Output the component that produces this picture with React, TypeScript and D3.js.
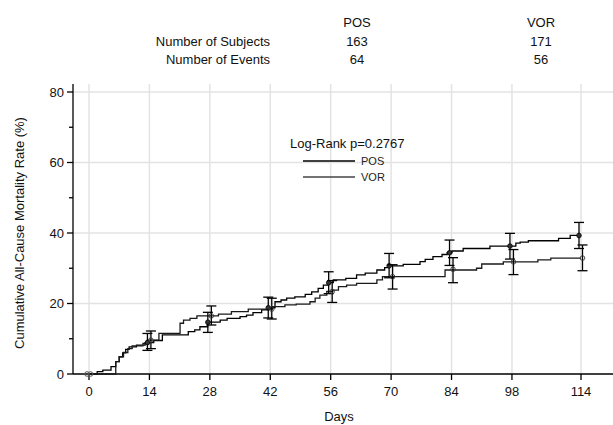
import React from "react";
import * as d3 from "d3";

const W = 613;
const H = 425;

const groups = ["POS", "VOR"];
const subjects = ["163", "171"];
const events = ["64", "56"];
const xTicks = [0, 14, 28, 42, 56, 70, 84, 98, 114];
const yTicks = [0, 20, 40, 60, 80];
const yMinor = [10, 30, 50, 70];
const pValue = "Log-Rank p=0.2767";

// step change points [day, cumulative %]
const posSteps: [number, number][] = [
  [0, 0], [1.9, 0.7], [3.2, 1.1], [5.1, 2.1], [6.2, 3.5], [7.0, 4.9], [7.8, 6.0], [8.5, 7.0],
  [9.3, 7.7], [11.0, 8.2], [13.0, 8.9], [15.0, 9.5], [17.0, 11.1], [23.0, 12.0], [24.5, 12.5],
  [25.7, 13.4], [27.5, 14.7], [30.4, 15.3], [32, 15.8], [35, 16.3], [36.5, 16.7], [38, 17.4],
  [40, 18.2], [41.5, 18.8], [43.1, 20.5], [44.5, 21.0], [45.8, 21.5], [47.7, 21.9], [50.1, 22.6],
  [51.6, 23.3], [53.1, 24.3], [54.3, 25.2], [55.5, 25.9], [56.6, 26.7], [59.5, 27.1], [62.0, 28.1],
  [64, 28.6], [66.7, 29.5], [68.5, 30.2], [69.5, 30.7], [72.8, 31.1], [76.7, 31.9], [77.9, 32.5],
  [79.7, 33.3], [81.8, 33.9], [83.0, 34.4], [84.1, 34.9], [86.7, 35.6], [92.9, 36.3], [98.9, 37.1],
  [99.9, 37.4], [101.8, 37.8], [108.8, 38.5], [111.5, 39.3], [114, 39.3],
];
const vorSteps: [number, number][] = [
  [0, 0], [6.2, 3.5], [7.0, 4.9], [8.0, 6.1], [9.0, 7.2], [10.0, 8.0], [12.5, 8.7], [13.5, 9.6],
  [16.2, 11.5], [21.1, 14.4], [21.9, 15.3], [23.4, 15.8], [25.0, 16.5], [30.0, 17.0], [33.0, 17.7],
  [36.9, 18.4], [42.5, 19.1], [45.4, 19.6], [48, 19.8], [51.2, 20.5], [52.4, 21.5], [53.5, 22.4],
  [55.1, 23.4], [56.5, 23.8], [57.8, 24.8], [59.7, 25.2], [62.0, 25.7], [66.7, 26.7], [68.0, 27.6],
  [82.5, 29.5], [89.8, 30.0], [91.0, 31.2], [96.0, 31.8], [104, 32.4], [107, 32.9], [114, 32.9],
];

// markers with 95% CI at landmark days
const ciDays = [14, 28, 42, 56, 70, 84, 98, 114];
const posEst = [8.9, 14.7, 18.8, 25.9, 30.7, 34.4, 36.3, 39.3];
const posLo = [6.7, 11.8, 15.9, 22.8, 27.3, 30.8, 32.6, 35.6];
const posHi = [11.5, 17.5, 21.8, 29.0, 34.2, 38.0, 39.9, 43.0];
const vorEst = [9.6, 16.5, 18.4, 23.4, 27.6, 29.7, 31.8, 32.9];
const vorLo = [7.2, 13.9, 15.6, 20.3, 24.1, 25.9, 28.2, 29.3];
const vorHi = [12.2, 19.3, 21.5, 26.5, 31.0, 33.0, 35.3, 36.6];

const FONT = "'Liberation Sans Narrow', 'Liberation Sans', Arial, sans-serif";

export default function App() {
  const x = d3.scaleLinear().domain([0, 114]).range([89, 581]);
  const y = d3.scaleLinear().domain([0, 80]).range([374, 92]);
  const left = 73;
  const right = W;
  const top = 84;

  const line = d3
    .line<[number, number]>()
    .x((d) => x(d[0]))
    .y((d) => y(d[1]))
    .curve(d3.curveStepAfter);

  const series = [
    { name: groups[0], steps: posSteps, est: posEst, lo: posLo, hi: posHi, off: -2, color: "#000" },
    { name: groups[1], steps: vorSteps, est: vorEst, lo: vorLo, hi: vorHi, off: 1.5, color: "#1a1a1a" },
  ];

  return (
    <svg width={W} height={H} style={{ position: "absolute", left: 0, top: 0, background: "#fff" }} fontFamily={FONT}>
      <rect width={W} height={H} fill="#fff" />
      {/* header table */}
      <g fontSize={13} fill="#111">
        <text x={357} y={27} textAnchor="middle">{groups[0]}</text>
        <text x={541} y={27} textAnchor="middle">{groups[1]}</text>
        <text x={270} y={46} textAnchor="end">Number of Subjects</text>
        <text x={357} y={46} textAnchor="middle">{subjects[0]}</text>
        <text x={541} y={46} textAnchor="middle">{subjects[1]}</text>
        <text x={270} y={64} textAnchor="end">Number of Events</text>
        <text x={357} y={64} textAnchor="middle">{events[0]}</text>
        <text x={541} y={64} textAnchor="middle">{events[1]}</text>
      </g>
      {/* grid */}
      <g stroke="#e3e3e3" strokeWidth={1.5}>
        {yTicks.filter((t) => t > 0).map((t) => (
          <line key={"gy" + t} x1={left} x2={right} y1={y(t)} y2={y(t)} />
        ))}
        {xTicks.map((t) => (
          <line key={"gx" + t} x1={x(t)} x2={x(t)} y1={top} y2={y(0)} />
        ))}
      </g>
      {/* axes */}
      <g stroke="#000" strokeWidth={1.3}>
        <line x1={left} x2={left} y1={top} y2={y(0)} />
        <line x1={left} x2={right} y1={y(0)} y2={y(0)} />
        {yTicks.map((t) => (
          <line key={"ty" + t} x1={left - 6} x2={left} y1={y(t)} y2={y(t)} />
        ))}
        {yMinor.map((t) => (
          <line key={"tm" + t} x1={left - 4} x2={left} y1={y(t)} y2={y(t)} />
        ))}
        {xTicks.map((t) => (
          <line key={"tx" + t} x1={x(t)} x2={x(t)} y1={y(0)} y2={y(0) + 6} />
        ))}
      </g>
      <g fontSize={13} fill="#111">
        {yTicks.map((t) => (
          <text key={"ly" + t} x={left - 9} y={y(t) + 4.5} textAnchor="end">{t}</text>
        ))}
        {xTicks.map((t) => (
          <text key={"lx" + t} x={x(t)} y={y(0) + 22} textAnchor="middle">{t}</text>
        ))}
        <text x={339} y={421} textAnchor="middle">Days</text>
        <text transform={`translate(24,${233}) rotate(-90)`} textAnchor="middle">
          Cumulative All-Cause Mortality Rate (%)
        </text>
      </g>
      {/* curves */}
      {series.map((s) => (
        <path key={s.name} d={line(s.steps) || ""} fill="none" stroke={s.color} strokeWidth={1.3} />
      ))}
      {/* day 0 markers */}
      {series.map((s) => (
        <circle key={"z" + s.name} cx={x(0) + s.off} cy={y(0)} r={2.3} fill="none" stroke="#555" strokeWidth={1} />
      ))}
      {/* CI bars and markers */}
      {series.map((s, si) => (
        <g key={"ci" + s.name} stroke="#000" strokeWidth={1.3}>
          {ciDays.map((d, i) => {
            const cx = x(d) + s.off;
            return (
              <g key={d}>
                <line x1={cx} x2={cx} y1={y(s.lo[i])} y2={y(s.hi[i])} />
                <line x1={cx - 5} x2={cx + 5} y1={y(s.lo[i])} y2={y(s.lo[i])} />
                <line x1={cx - 5} x2={cx + 5} y1={y(s.hi[i])} y2={y(s.hi[i])} />
                {si === 0 ? (
                  <g>
                    <circle cx={cx} cy={y(s.est[i])} r={2.3} fill="#333" stroke="#000" strokeWidth={0.8} />
                  </g>
                ) : (
                  <circle cx={cx} cy={y(s.est[i])} r={2.3} fill="none" stroke="#333" strokeWidth={0.9} />
                )}
              </g>
            );
          })}
        </g>
      ))}
      {/* legend */}
      <g fontFamily={FONT}>
        <text x={290} y={148} fontSize={13} fill="#111">{pValue}</text>
        <line x1={303} x2={355} y1={161} y2={161} stroke="#000" strokeWidth={1.3} />
        <text x={361} y={165} fontSize={11} fill="#222">{groups[0]}</text>
        <line x1={303} x2={355} y1={177} y2={177} stroke="#444" strokeWidth={1.3} />
        <text x={361} y={181} fontSize={11} fill="#222">{groups[1]}</text>
      </g>
    </svg>
  );
}
